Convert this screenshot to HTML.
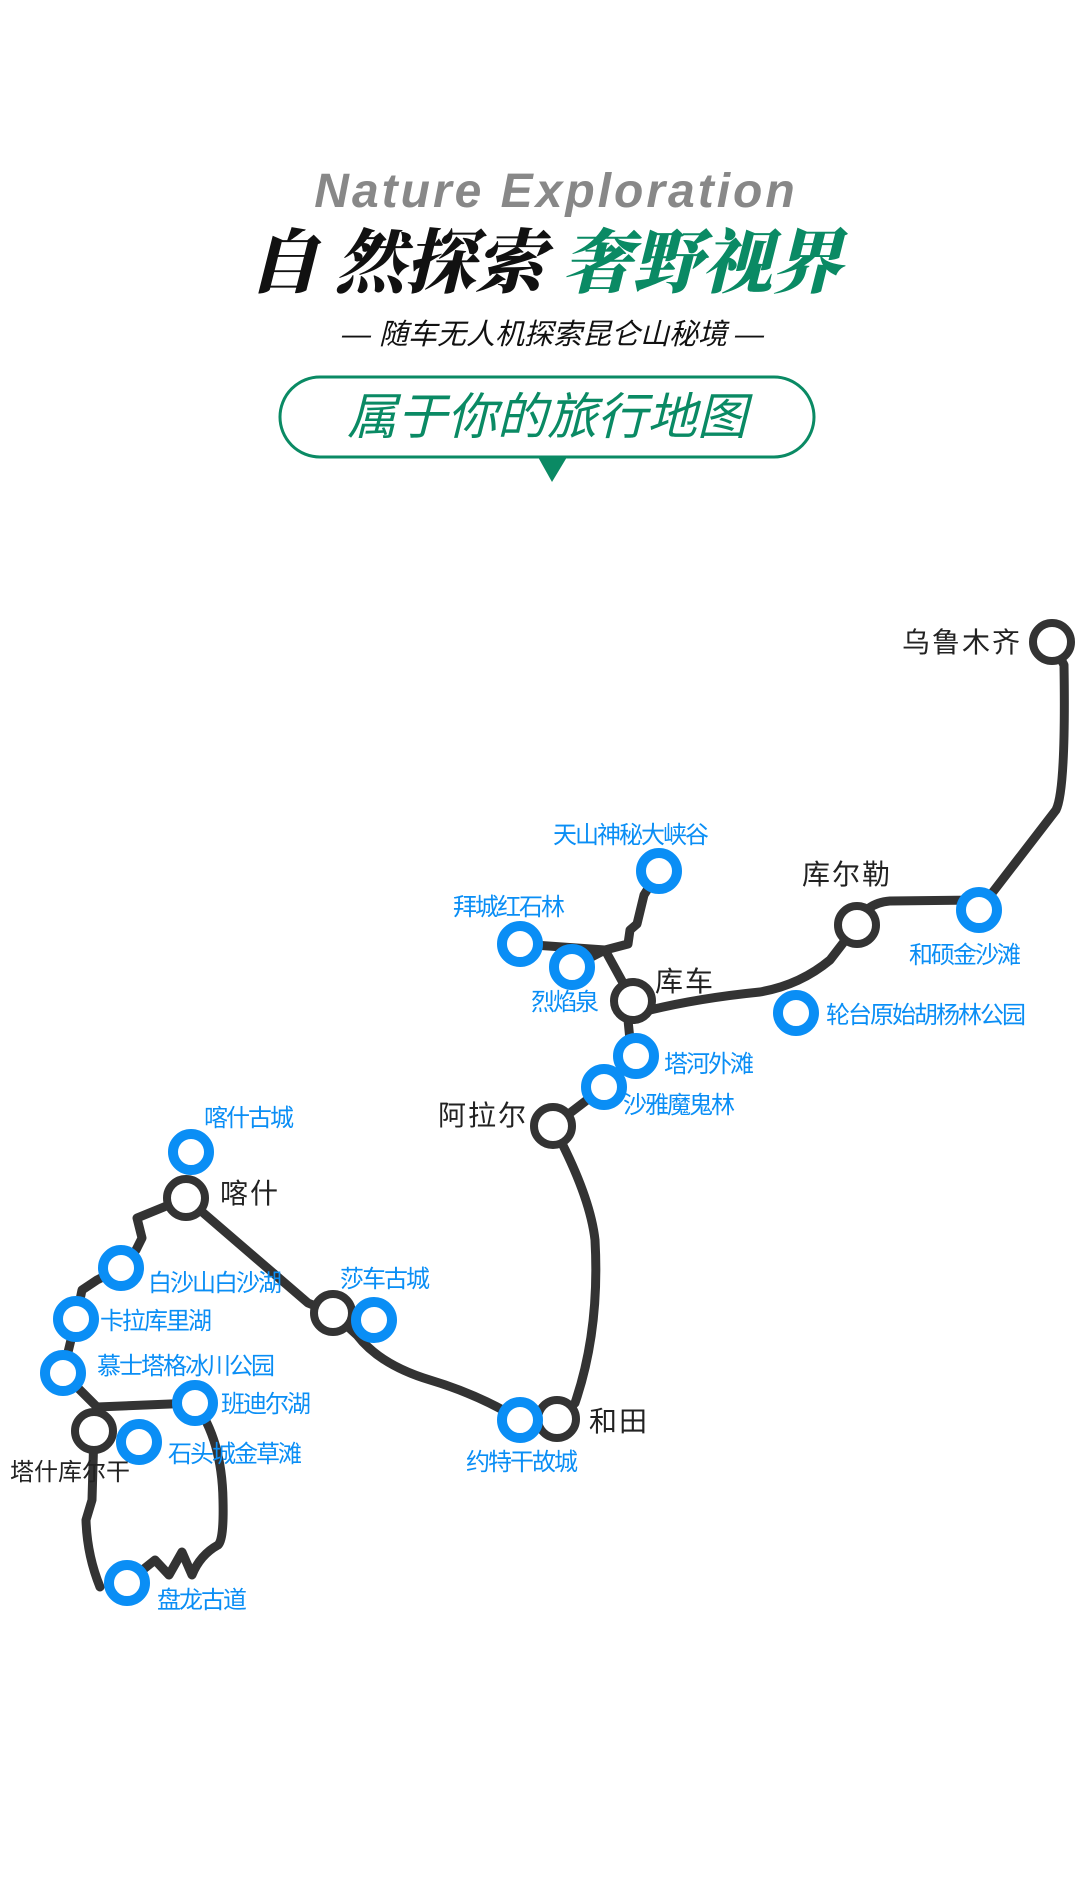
<!DOCTYPE html>
<html><head><meta charset="utf-8"><style>
html,body{margin:0;padding:0;background:#fff;}
body{width:1080px;height:1900px;position:relative;overflow:hidden;}
svg{position:absolute;left:0;top:0;}
.b{font-family:"Liberation Sans","Noto Sans CJK SC",sans-serif;font-size:28px;fill:#222;letter-spacing:2px;}
.l{font-family:"Liberation Sans","Noto Sans CJK SC",sans-serif;font-size:24px;fill:#0a8ef5;letter-spacing:-2px;}
</style></head><body>
<svg width="1080" height="1900" viewBox="0 0 1080 1900">
<text x="556" y="207" text-anchor="middle" font-family="Liberation Sans,sans-serif" font-weight="bold" font-style="italic" font-size="48" fill="#888" letter-spacing="3">Nature Exploration</text>
<text x="248" y="287" font-family="Noto Serif CJK SC,serif" font-weight="900" font-style="italic" font-size="70" fill="#111">自 然探索</text>
<text x="562" y="287" font-family="Noto Serif CJK SC,serif" font-weight="900" font-style="italic" font-size="70" fill="#0a8a64">奢野视界</text>
<text x="553" y="344" text-anchor="middle" font-family="Liberation Sans,Noto Sans CJK SC,sans-serif" font-style="italic" font-size="29" fill="#111">— 随车无人机探索昆仑山秘境 —</text>
<rect x="280" y="377" width="534" height="80" rx="40" fill="#fff" stroke="#0a8a64" stroke-width="3"/>
<text x="547" y="434" text-anchor="middle" font-family="Noto Sans CJK SC,sans-serif" font-style="italic" font-size="50" fill="#0a8a64">属于你的旅行地图</text>
<polygon points="538,457 567,457 552,482" fill="#0a8a64"/>

<g fill="none" stroke="#333" stroke-width="9" stroke-linecap="round" stroke-linejoin="round">
<path d="M1052,642 L1064,665 Q1066,790 1056,810 L979,910"/>
<path d="M979,900 L890,901 Q865,903 857,925"/>
<path d="M857,925 L830,960 Q800,985 760,992 Q700,998 650,1010 L633,1001"/>
<path d="M633,1001 L605,950 L572,967 M605,950 L520,944"/>
<path d="M605,950 L628,944 L630,930 L637,924 L644,895 L659,871"/>
<path d="M633,1001 L628,1020 L630,1040 L636,1056 L604,1087 L553,1126"/>
<path d="M553,1126 Q590,1195 595,1240 Q600,1330 575,1403 L557,1419"/>
<path d="M557,1419 L520,1420 Q480,1395 430,1380 Q380,1365 357,1335 L333,1313"/>
<path d="M333,1313 L308,1303 L186,1198"/>
<path d="M186,1198 L137,1218 L142,1238 L136,1250 L121,1268 L97,1280 L82,1290 L76,1319 L63,1373 L97,1407 L195,1403"/>
<path d="M94,1431 L97,1407"/>
<path d="M94,1431 L92,1500 L86,1520 Q87,1555 100,1587"/>
<path d="M195,1403 Q222,1440 223,1500 Q224,1540 218,1545 Q200,1555 192,1575 L182,1552 L169,1575 L155,1560 L140,1572"/>
</g>

<g fill="#fff" stroke="#333" stroke-width="8">
<circle cx="1052" cy="642" r="19"/>
<circle cx="857" cy="925" r="19"/>
<circle cx="633" cy="1001" r="19"/>
<circle cx="553" cy="1126" r="19"/>
<circle cx="557" cy="1419" r="19"/>
<circle cx="333" cy="1313" r="19"/>
<circle cx="186" cy="1198" r="19"/>
<circle cx="94" cy="1431" r="19"/>
</g>
<g fill="#fff" stroke="#0a8ef5" stroke-width="10">
<circle cx="979" cy="910" r="18"/>
<circle cx="796" cy="1013" r="18"/>
<circle cx="659" cy="871" r="18"/>
<circle cx="520" cy="944" r="18"/>
<circle cx="572" cy="967" r="18"/>
<circle cx="636" cy="1056" r="18"/>
<circle cx="604" cy="1087" r="18"/>
<circle cx="520" cy="1420" r="18"/>
<circle cx="374" cy="1320" r="18"/>
<circle cx="191" cy="1152" r="18"/>
<circle cx="121" cy="1268" r="18"/>
<circle cx="76" cy="1319" r="18"/>
<circle cx="63" cy="1373" r="18"/>
<circle cx="195" cy="1403" r="18"/>
<circle cx="139" cy="1442" r="18"/>
<circle cx="127" cy="1583" r="18"/>
</g>

<text class="b" x="1022" y="652" text-anchor="end">乌鲁木齐</text>
<text class="b" x="847" y="884" text-anchor="middle">库尔勒</text>
<text class="b" x="655" y="991">库车</text>
<text class="b" x="528" y="1125" text-anchor="end">阿拉尔</text>
<text class="b" x="589" y="1431">和田</text>
<text class="b" x="220" y="1203">喀什</text>
<text class="b" x="70" y="1480" text-anchor="middle" style="font-size:24px;letter-spacing:0">塔什库尔干</text>

<text class="l" x="964" y="963" text-anchor="middle">和硕金沙滩</text>
<text class="l" x="826" y="1023">轮台原始胡杨林公园</text>
<text class="l" x="630" y="843" text-anchor="middle">天山神秘大峡谷</text>
<text class="l" x="508" y="915" text-anchor="middle">拜城红石林</text>
<text class="l" x="564" y="1010" text-anchor="middle">烈焰泉</text>
<text class="l" x="664" y="1072">塔河外滩</text>
<text class="l" x="623" y="1113">沙雅魔鬼林</text>
<text class="l" x="521" y="1470" text-anchor="middle">约特干故城</text>
<text class="l" x="384" y="1287" text-anchor="middle">莎车古城</text>
<text class="l" x="248" y="1126" text-anchor="middle">喀什古城</text>
<text class="l" x="148" y="1291">白沙山白沙湖</text>
<text class="l" x="100" y="1329">卡拉库里湖</text>
<text class="l" x="97" y="1374">慕士塔格冰川公园</text>
<text class="l" x="221" y="1412">班迪尔湖</text>
<text class="l" x="168" y="1462">石头城金草滩</text>
<text class="l" x="157" y="1608">盘龙古道</text>
</svg>
</body></html>
